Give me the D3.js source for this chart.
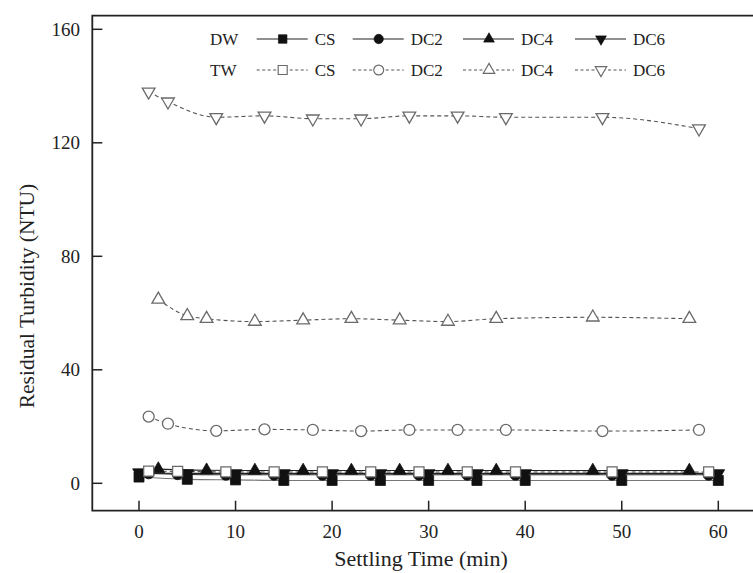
<!DOCTYPE html>
<html>
<head>
<meta charset="utf-8">
<script src="https://cdn.jsdelivr.net/npm/d3@7"></script>
<style>
  html, body { margin: 0; padding: 0; background: #fff; }
  svg { display: block; }
  text { font-family: "Liberation Serif", "Times New Roman", serif; fill: #222; }
</style>
</head>
<body>
<svg id="chart" width="753" height="573"></svg>
<script>
// Sampling times (min) for each sampling schedule
const timeA = [1, 3, 8, 13, 18, 23, 28, 33, 38, 48, 58];
const timeB = [2, 5, 7, 12, 17, 22, 27, 32, 37, 47, 57];
const timeB10 = [2, 7, 12, 17, 22, 27, 32, 37, 47, 57];
const timeC = [0, 5, 10, 15, 20, 25, 30, 35, 40, 50, 60];
const timeD = [1, 4, 9, 14, 19, 24, 29, 34, 39, 49, 59];

// Residual turbidity (NTU) – treated water (TW)
const twCS  = [4.3, 4.2, 4.0, 4.0, 4.0, 4.0, 4.0, 4.0, 4.0, 4.0, 4.0];
const twDC2 = [23.5, 21, 18.5, 19, 18.8, 18.4, 18.8, 18.8, 18.8, 18.4, 18.8];
const twDC4 = [64.8, 59, 58, 57, 57.5, 58, 57.5, 57, 58, 58.5, 58];
const twDC6 = [138, 134.5, 129, 129.5, 128.5, 128.5, 129.5, 129.5, 129, 129, 125];

// Residual turbidity (NTU) – distilled water (DW)
const dwCS  = [2.2, 1.4, 1.2, 1.0, 1.0, 1.0, 1.0, 1.0, 1.0, 1.0, 1.0];
const dwDC2 = [3.5, 3.2, 3.0, 3.0, 3.0, 3.0, 3.0, 3.0, 3.0, 3.0, 3.0];
const dwDC4 = [5.0, 4.6, 4.5, 4.5, 4.5, 4.5, 4.5, 4.5, 4.5, 4.5];
const dwDC6 = [3.8, 3.5, 3.5, 3.5, 3.5, 3.5, 3.5, 3.5, 3.5, 3.5, 3.5];

const xTicks = [0, 10, 20, 30, 40, 50, 60];
const yTicks = [0, 40, 80, 120, 160];
const coagulants = ["CS", "DC2", "DC4", "DC6"];
const markerTypes = ["square", "circle", "triangleUp", "triangleDown"];

const svg = d3.select("#chart");

// Plot frame (right side runs past the page edge)
const frame = { left: 92.3, top: 15.7, bottom: 510.7, right: 760 };

const x = d3.scaleLinear().domain([0, 60]).range([139, 718.3]);
const y = d3.scaleLinear().domain([0, 160]).range([483.3, 29.3]);

// Marker shapes
const symbolFor = {
  square: d3.symbol().type(d3.symbolSquare).size(100),
  circle: d3.symbol().type(d3.symbolCircle).size(95),
  triangleUp: d3.symbol().type(d3.symbolTriangle).size(70),
  triangleDown: d3.symbol().type(d3.symbolTriangle).size(70)
};
function drawMarker(g, type, cx, cy, filled) {
  const p = g.append("path")
    .attr("d", symbolFor[type]())
    .attr("transform", `translate(${cx},${cy})` + (type === "triangleDown" ? " rotate(180)" : ""));
  if (filled) {
    p.attr("fill", "#111").attr("stroke", "#111").attr("stroke-width", 0.8);
  } else {
    p.attr("fill", "#fff").attr("stroke", "#6a6a6a").attr("stroke-width", 1.3);
  }
  return p;
}

const series = [
  { times: timeD, values: dwDC2, type: "circle", filled: true, line: "#222", dash: null },
  { times: timeC, values: dwDC6, type: "triangleDown", filled: true, line: "#222", dash: null },
  { times: timeC, values: dwCS, type: "square", filled: true, line: "#777", dash: null },
  { times: timeB10, values: dwDC4, type: "triangleUp", filled: true, line: "#222", dash: null },
  { times: timeD, values: twCS, type: "square", filled: false, line: "#444", dash: "4,3" },
  { times: timeA, values: twDC2, type: "circle", filled: false, line: "#555", dash: "4,3" },
  { times: timeB, values: twDC4, type: "triangleUp", filled: false, line: "#555", dash: "4,3" },
  { times: timeA, values: twDC6, type: "triangleDown", filled: false, line: "#555", dash: "4,3" }
];

const line = d3.line()
  .x(d => x(d[0]))
  .y(d => y(d[1]))
  .curve(d3.curveMonotoneX);

const plot = svg.append("g");

// Connecting lines
series.forEach(s => {
  const pts = s.times.map((t, i) => [t, s.values[i]]);
  plot.append("path")
    .attr("d", line(pts))
    .attr("fill", "none")
    .attr("stroke", s.line)
    .attr("stroke-width", 1.1)
    .attr("stroke-dasharray", s.dash);
});

// Markers
series.forEach(s => {
  const g = plot.append("g");
  s.times.forEach((t, i) => drawMarker(g, s.type, x(t), y(s.values[i]), s.filled));
});

// Frame
const axisColor = "#222";
svg.append("path")
  .attr("d", `M${frame.right},${frame.top}H${frame.left}V${frame.bottom}H${frame.right}`)
  .attr("fill", "none").attr("stroke", axisColor).attr("stroke-width", 1.8);

// Y axis: inward ticks
const yAxis = svg.append("g");
yTicks.forEach(v => {
  yAxis.append("line")
    .attr("x1", frame.left).attr("x2", frame.left + 10)
    .attr("y1", y(v)).attr("y2", y(v))
    .attr("stroke", axisColor).attr("stroke-width", 1.5);
  yAxis.append("text")
    .attr("x", 80).attr("y", y(v)).attr("dy", "0.35em")
    .attr("text-anchor", "end").attr("font-size", 19)
    .text(v);
});

// X axis: inward ticks
const xAxis = svg.append("g");
xTicks.forEach(v => {
  xAxis.append("line")
    .attr("x1", x(v)).attr("x2", x(v))
    .attr("y1", frame.bottom).attr("y2", frame.bottom - 10)
    .attr("stroke", axisColor).attr("stroke-width", 1.5);
  xAxis.append("text")
    .attr("x", x(v)).attr("y", 538)
    .attr("text-anchor", "middle").attr("font-size", 19)
    .text(v);
});

// Axis titles
svg.append("text")
  .attr("transform", "translate(34,296) rotate(-90)")
  .attr("text-anchor", "middle").attr("font-size", 21.5)
  .text("Residual Turbidity (NTU)");
svg.append("text")
  .attr("x", 421).attr("y", 566)
  .attr("text-anchor", "middle").attr("font-size", 22)
  .text("Settling Time (min)");

// Legend
const legendRows = [
  { label: "DW", y: 39, filled: true, dash: null, stroke: "#222" },
  { label: "TW", y: 70, filled: false, dash: "3,2.5", stroke: "#555" }
];
const legendCols = [256.7, 352.7, 463, 575];
const legend = svg.append("g");
legendRows.forEach(r => {
  legend.append("text")
    .attr("x", 210).attr("y", r.y).attr("dy", "0.35em")
    .attr("font-size", 17).text(r.label);
  coagulants.forEach((c, i) => {
    const x0 = legendCols[i];
    legend.append("line")
      .attr("x1", x0).attr("x2", x0 + 51)
      .attr("y1", r.y).attr("y2", r.y)
      .attr("stroke", r.stroke).attr("stroke-width", 1.1)
      .attr("stroke-dasharray", r.dash);
    const m = drawMarker(legend, markerTypes[i], x0 + 26, r.y, r.filled);
    if (r.filled) m.attr("transform", m.attr("transform") + " scale(0.85)");
    else m.attr("transform", m.attr("transform") + " scale(0.9)");
    legend.append("text")
      .attr("x", x0 + 58).attr("y", r.y).attr("dy", "0.35em")
      .attr("font-size", 17).text(c);
  });
});
</script>
</body>
</html>
